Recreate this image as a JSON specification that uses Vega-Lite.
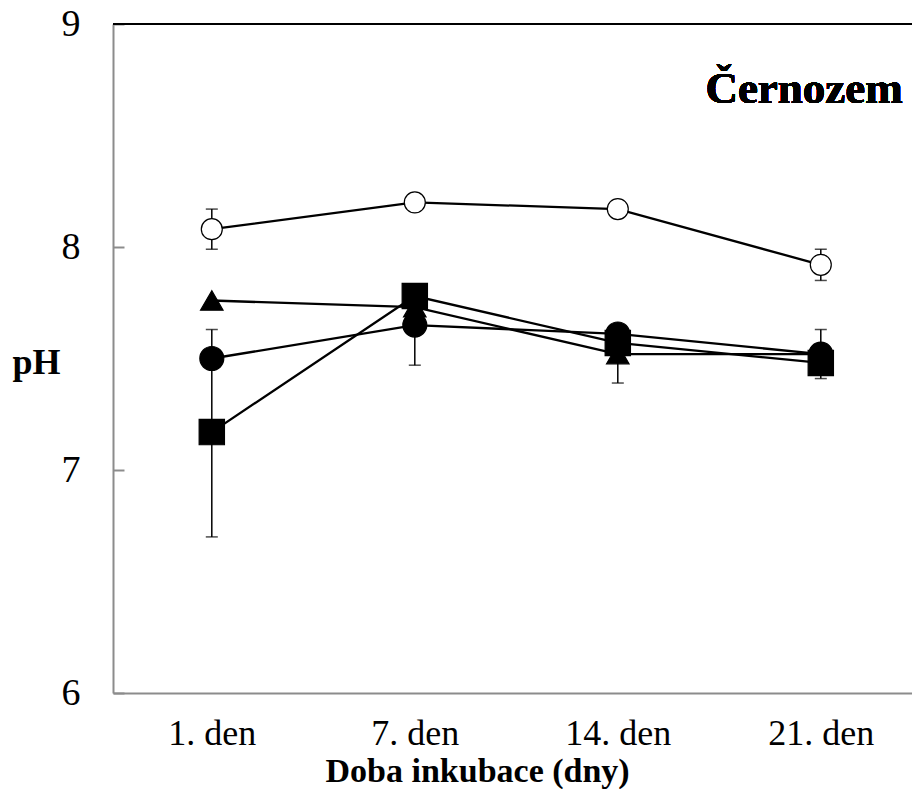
{
  "$schema": "https://vega.github.io/schema/vega-lite/v6.json",
  "width": 799,
  "height": 669,
  "autosize": "none",
  "padding": {"left": 113, "top": 24, "right": 0, "bottom": 96},
  "background": "white",
  "config": {
    "view": {"stroke": null},
    "font": "Liberation Serif",
    "axis": {"grid": false, "labelColor": "black", "titleColor": "black", "domainColor": "#8c8c8c", "tickColor": "#8c8c8c", "domainWidth": 2, "tickWidth": 2}
  },
  "data": {
    "values": [
      {"series": "A", "den": "1. den", "ph": 8.08, "lo": 7.99, "hi": 8.17},
      {"series": "A", "den": "7. den", "ph": 8.20},
      {"series": "A", "den": "14. den", "ph": 8.17},
      {"series": "A", "den": "21. den", "ph": 7.92, "lo": 7.85, "hi": 7.99},
      {"series": "B", "den": "1. den", "ph": 7.76},
      {"series": "B", "den": "7. den", "ph": 7.73},
      {"series": "B", "den": "14. den", "ph": 7.52, "lo": 7.39, "hi": 7.65},
      {"series": "B", "den": "21. den", "ph": 7.52},
      {"series": "C", "den": "1. den", "ph": 7.50},
      {"series": "C", "den": "7. den", "ph": 7.65, "lo": 7.47, "hi": 7.83},
      {"series": "C", "den": "14. den", "ph": 7.61},
      {"series": "C", "den": "21. den", "ph": 7.52, "lo": 7.41, "hi": 7.63},
      {"series": "D", "den": "1. den", "ph": 7.17, "lo": 6.70, "hi": 7.63},
      {"series": "D", "den": "7. den", "ph": 7.78},
      {"series": "D", "den": "14. den", "ph": 7.57},
      {"series": "D", "den": "21. den", "ph": 7.48}
    ]
  },
  "encoding": {
    "x": {
      "field": "den",
      "type": "ordinal",
      "sort": ["1. den", "7. den", "14. den", "21. den"],
      "scale": {"type": "point", "padding": 0.468, "align": 0.52},
      "axis": {
        "orient": "bottom",
        "ticks": false,
        "labelAngle": 0,
        "labelFontSize": 36,
        "labelBaseline": "alphabetic",
        "labelPadding": 51,
        "title": "Doba inkubace (dny)",
        "titleFontSize": 34,
        "titleFontWeight": "bold",
        "titleX": 212,
        "titleY": 88,
        "titleAlign": "left",
        "titleAnchor": null,
        "titleBaseline": "alphabetic"
      }
    }
  },
  "layer": [
    {
      "mark": {"type": "rule", "color": "black", "strokeWidth": 2},
      "encoding": {"x": null, "y": {"datum": 9, "type": "quantitative"}}
    },
    {
      "mark": {"type": "line", "color": "black", "strokeWidth": 2.3},
      "encoding": {
        "y": {
          "field": "ph",
          "type": "quantitative",
          "scale": {"domain": [6, 9], "nice": false, "zero": false},
          "axis": {
            "values": [6, 7, 8, 9],
            "format": "d",
            "tickSize": -11,
            "labelFontSize": 38,
            "labelPadding": 44,
            "title": "pH",
            "titleAngle": 0,
            "titleFontSize": 36,
            "titleFontWeight": "bold",
            "titleX": -101,
            "titleY": 338,
            "titleAlign": "left",
            "titleBaseline": "middle"
          }
        },
        "detail": {"field": "series"}
      }
    },
    {
      "mark": {"type": "rule", "color": "black", "strokeWidth": 1.5},
      "encoding": {
        "y": {"field": "lo", "type": "quantitative"},
        "y2": {"field": "hi"}
      }
    },
    {
      "mark": {"type": "tick", "color": "black", "thickness": 1.5, "size": 12, "orient": "horizontal"},
      "encoding": {"y": {"field": "lo", "type": "quantitative"}}
    },
    {
      "mark": {"type": "tick", "color": "black", "thickness": 1.5, "size": 12, "orient": "horizontal"},
      "encoding": {"y": {"field": "hi", "type": "quantitative"}}
    },
    {
      "mark": {"type": "point", "filled": true, "opacity": 1, "stroke": "black", "strokeWidth": 1.2},
      "encoding": {
        "y": {"field": "ph", "type": "quantitative"},
        "shape": {"field": "series", "type": "nominal", "scale": {"domain": ["A", "B", "C", "D"], "range": ["circle", "triangle-up", "circle", "square"]}, "legend": null},
        "fill": {"field": "series", "type": "nominal", "scale": {"domain": ["A", "B", "C", "D"], "range": ["white", "black", "black", "black"]}, "legend": null},
        "size": {"field": "series", "type": "nominal", "scale": {"domain": ["A", "B", "C", "D"], "range": [440, 640, 580, 580]}, "legend": null}
      }
    },
    {
      "mark": {"type": "text", "text": "Černozem", "font": "Liberation Serif", "fontSize": 45, "fontWeight": "bold", "align": "right", "baseline": "alphabetic", "dx": 82, "color": "black"},
      "encoding": {
        "x": {"datum": "21. den", "type": "ordinal"},
        "y": {"datum": 8.645, "type": "quantitative"}
      }
    }
  ]
}
